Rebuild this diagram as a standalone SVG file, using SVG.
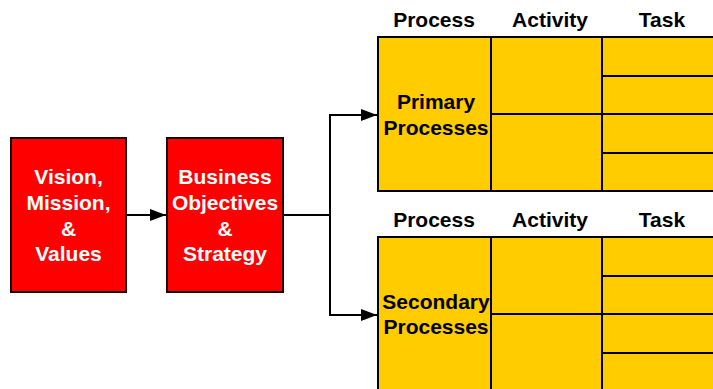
<svg xmlns="http://www.w3.org/2000/svg" width="713" height="389" viewBox="0 0 713 389">
<defs>
<style>
.red{fill:#FF0000;stroke:#1a0000;stroke-width:2}
.yel{fill:#FFCC00;stroke:#000;stroke-width:2}
.ln{stroke:#000;stroke-width:2;fill:none}
.wt{font-family:"Liberation Sans",Arial,sans-serif;font-weight:bold;font-size:21px;fill:#fff;text-anchor:middle}
.bt{font-family:"Liberation Sans",Arial,sans-serif;font-weight:bold;font-size:21px;fill:#000;text-anchor:middle}
</style>
<marker id="ah" markerWidth="16" markerHeight="12" refX="16" refY="6" orient="auto" markerUnits="userSpaceOnUse">
<path d="M0,0 L16,6 L0,12 Z" fill="#000"/>
</marker>
</defs>
<g id="connectors">
<line class="ln" x1="126" y1="215" x2="166" y2="215" marker-end="url(#ah)"/>
<polyline class="ln" points="283,215 330,215"/>
<polyline class="ln" points="377,115 330,115 330,315 377,315" marker-end="url(#ah)"/>
<polyline class="ln" points="330,115 377,115" marker-end="url(#ah)"/>
</g>
<g id="vision">
<rect class="red" x="11" y="138" width="115" height="154"/>
<text class="wt" x="68.5" y="184">Vision,</text>
<text class="wt" x="68.5" y="210">Mission,</text>
<text class="wt" x="68.5" y="236">&amp;</text>
<text class="wt" x="68.5" y="261">Values</text>
</g>
<g id="business">
<rect class="red" x="167" y="138" width="116" height="154"/>
<text class="wt" x="225" y="184">Business</text>
<text class="wt" x="225" y="210">Objectives</text>
<text class="wt" x="225" y="236">&amp;</text>
<text class="wt" x="225" y="261">Strategy</text>
</g>
<g id="primary">
<text class="bt" x="434" y="27">Process</text>
<text class="bt" x="550" y="27">Activity</text>
<text class="bt" x="662" y="27">Task</text>
<rect class="yel" x="378" y="37" width="113" height="154"/>
<rect class="yel" x="491" y="37" width="111" height="77"/>
<rect class="yel" x="491" y="114" width="111" height="77"/>
<rect class="yel" x="602" y="37" width="120" height="39"/>
<rect class="yel" x="602" y="76" width="120" height="38"/>
<rect class="yel" x="602" y="114" width="120" height="39"/>
<rect class="yel" x="602" y="153" width="120" height="38"/>
<text class="bt" x="436" y="109">Primary</text>
<text class="bt" x="436" y="135">Processes</text>
</g>
<g id="secondary">
<text class="bt" x="434" y="227">Process</text>
<text class="bt" x="550" y="227">Activity</text>
<text class="bt" x="662" y="227">Task</text>
<rect class="yel" x="378" y="237" width="113" height="160"/>
<rect class="yel" x="491" y="237" width="111" height="77"/>
<rect class="yel" x="491" y="314" width="111" height="83"/>
<rect class="yel" x="602" y="237" width="120" height="39"/>
<rect class="yel" x="602" y="276" width="120" height="38"/>
<rect class="yel" x="602" y="314" width="120" height="39"/>
<rect class="yel" x="602" y="353" width="120" height="44"/>
<text class="bt" x="436" y="309">Secondary</text>
<text class="bt" x="436" y="334">Processes</text>
</g>
</svg>
